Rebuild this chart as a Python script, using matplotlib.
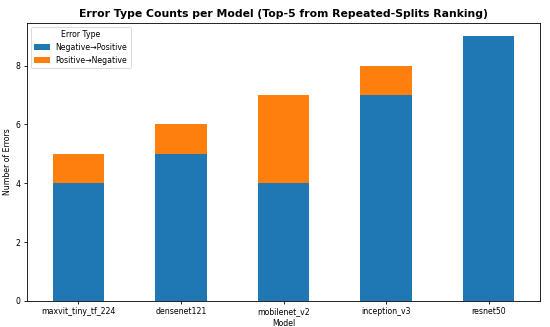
import matplotlib.pyplot as plt
import numpy as np

# --- Data ---
models = ['maxvit_tiny_tf_224', 'densenet121', 'mobilenet_v2', 'inception_v3', 'resnet50']
neg_to_pos = [4, 5, 4, 7, 9]
pos_to_neg = [1, 1, 3, 1, 0]
series_labels = ['Negative\u2192Positive', 'Positive\u2192Negative']

fig = plt.figure(figsize=(5.5, 3.27), dpi=100)
ax = fig.add_axes([0.049, 0.08, 0.933, 0.85])

x = np.arange(len(models))
ax.bar(x, neg_to_pos, width=0.5, color='#1f77b4', label=series_labels[0])
ax.bar(x, pos_to_neg, width=0.5, bottom=neg_to_pos, color='#ff7f0e', label=series_labels[1])

fs = 5.6
ax.set_xlim(-0.5, len(models) - 0.5)
ax.set_ylim(0, 9 * 1.05)
ax.set_xticks(x)
ax.set_xticklabels(models, fontsize=fs)
ax.set_yticks([0, 2, 4, 6, 8])
ax.tick_params(axis='y', labelsize=fs)
ax.tick_params(length=2.5, width=0.6, pad=2)
for s in ax.spines.values():
    s.set_linewidth(0.6)

ax.set_xlabel('Model', fontsize=fs, labelpad=2)
ax.set_ylabel('Number of Errors', fontsize=fs, labelpad=3)
ax.set_title('Error Type Counts per Model (Top-5 from Repeated-Splits Ranking)',
             fontsize=7.8, fontweight='bold', pad=4)

leg = ax.legend(title='Error Type', loc='upper left', fontsize=fs, title_fontsize=fs,
                frameon=True, handlelength=2, borderpad=0.4)
leg.get_frame().set_linewidth(0.6)

plt.savefig('out.png', dpi=100)
